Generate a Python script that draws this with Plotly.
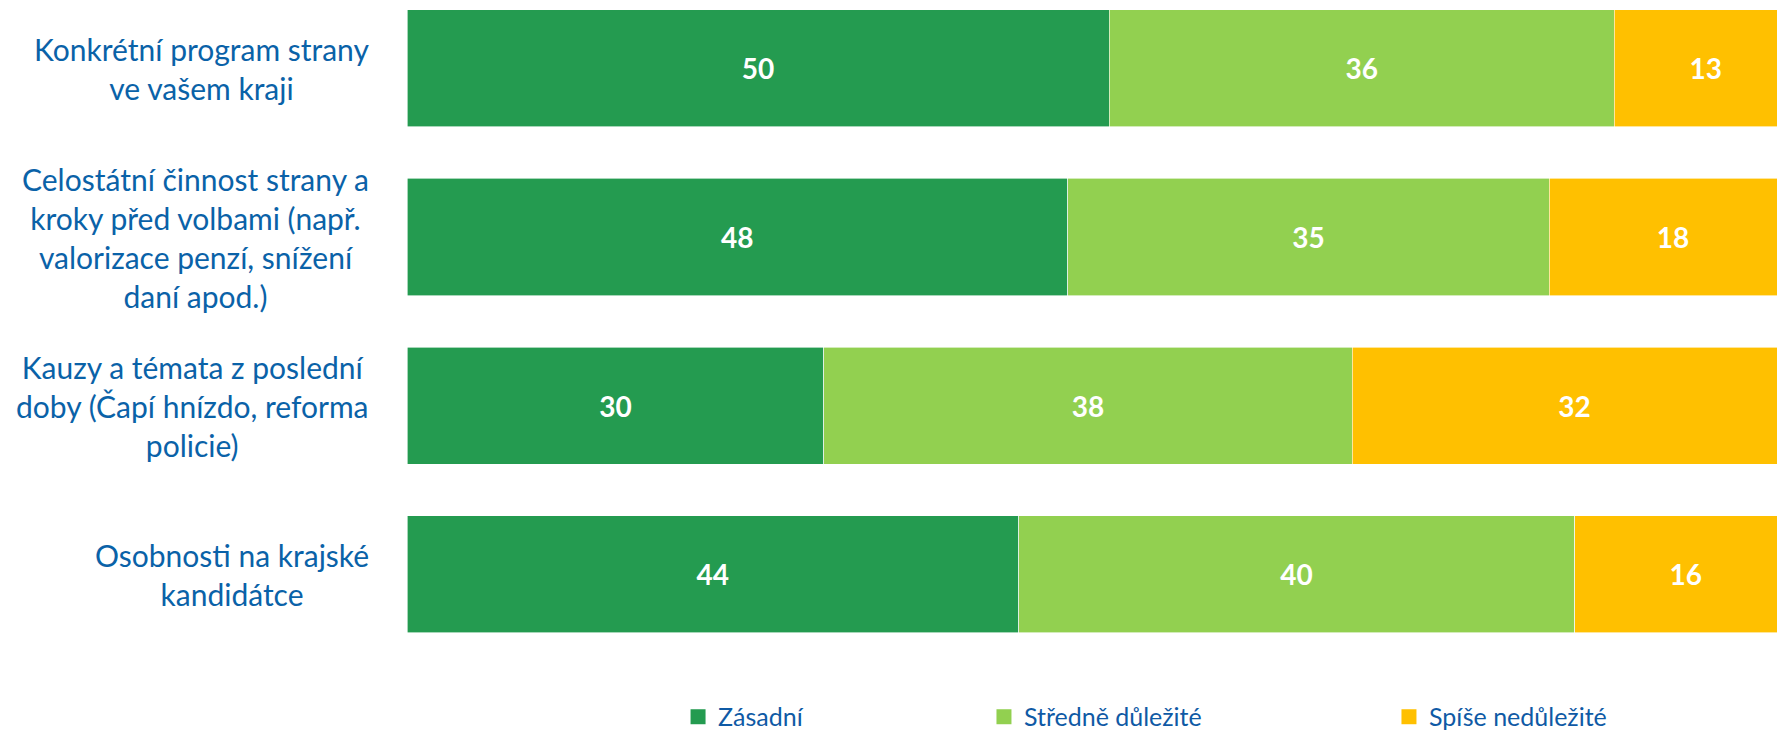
import plotly.graph_objects as go

categories = [
    "Konkrétní program strany<br>ve vašem kraji",
    "Celostátní činnost strany a<br>kroky před volbami (např.<br>valorizace penzí, snížení<br>daní apod.)",
    "Kauzy a témata z poslední<br>doby (Čapí hnízdo, reforma<br>policie)",
    "Osobnosti na krajské<br>kandidátce",
]
cat_ids = ["c1", "c2", "c3", "c4"]

series_names = ["Zásadní", "Středně důležité", "Spíše nedůležité"]
zasadni = [50, 48, 30, 44]
stredne = [36, 35, 38, 40]
spise = [13, 18, 32, 16]
colors = ["#249B50", "#92D050", "#FFC000"]

label_color = "#0A62A8"
legend_color = "#0F5AA5"
font_family = "Lato, 'Open Sans', sans-serif"

fig = go.Figure()
legend_ids = ["legend", "legend2", "legend3"]
for name, vals, col in zip(series_names, [zasadni, stredne, spise], colors):
    fig.add_trace(go.Bar(
        name=name,
        y=cat_ids,
        x=vals,
        orientation="h",
        marker=dict(color=col, line=dict(color="white", width=0.6)),
        text=[str(v) for v in vals],
        textposition="inside",
        insidetextanchor="middle",
        textangle=0,
        constraintext="none",
        textfont=dict(color="white", size=28, family=font_family, weight="bold"),
        showlegend=False,
        hoverinfo="skip",
    ))

# legend entries (square swatches sized like the original legend keys)
for name, col, lg in zip(series_names, colors, legend_ids):
    fig.add_trace(go.Scatter(
        name=name, x=[None], y=[None], mode="markers",
        marker=dict(symbol="square", size=15, color=col),
        legend=lg, showlegend=True, hoverinfo="skip",
    ))

for cid, lab in zip(cat_ids, categories):
    fig.add_annotation(
        x=0, xref="paper", y=cid, yref="y",
        text=lab, showarrow=False,
        xanchor="right", yanchor="middle", align="center",
        xshift=-36,
        font=dict(size=30, color=label_color, family=font_family),
    )

legend_common = dict(
    orientation="h", yanchor="middle", y=-0.0874, xanchor="left",
    font=dict(size=25, color=legend_color, family=font_family),
    bgcolor="rgba(0,0,0,0)", borderwidth=0,
)
fig.update_layout(
    width=1777, height=723,
    margin=dict(l=399, r=0, t=0, b=71, autoexpand=False),
    paper_bgcolor="white", plot_bgcolor="white",
    barmode="stack", barnorm="percent", bargap=0.306,
    showlegend=True,
    legend=dict(x=0.1967, **legend_common),
    legend2=dict(x=0.4187, **legend_common),
    legend3=dict(x=0.7126, **legend_common),
    xaxis=dict(range=[0, 99.14], visible=False, fixedrange=True),
    yaxis=dict(type="category", categoryorder="array", categoryarray=cat_ids,
               range=[3.5074, -0.3574], showticklabels=False, showgrid=False,
               zeroline=False, showline=False, ticks=""),
    font=dict(family=font_family),
)

fig.write_html("out.html")
